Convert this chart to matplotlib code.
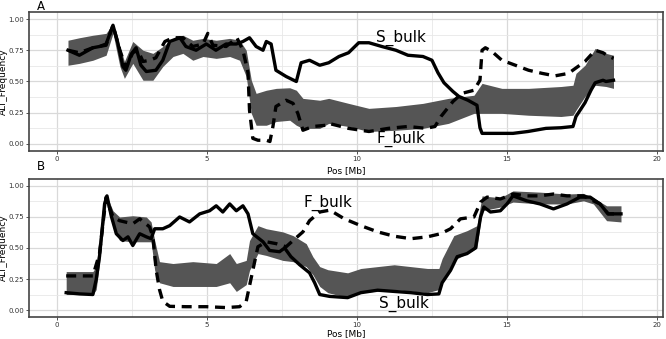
import matplotlib
matplotlib.use("Agg")
import matplotlib.pyplot as plt
import numpy as np

# ---- panel A values ----
a_s_x = [0.37, 0.75, 1.2, 1.42, 1.64, 1.87, 2.03, 2.2, 2.3, 2.48, 2.64, 2.8, 2.98, 3.3, 3.53, 3.76, 4.1, 4.3,
         4.64, 4.98, 5.3, 5.64, 5.98, 6.2, 6.42, 6.64, 6.87, 6.98, 7.14, 7.3, 7.64, 7.98, 8.14, 8.42, 8.76,
         9.06, 9.4, 9.72, 10.06, 10.4, 10.83, 11.3, 11.7, 12.2, 12.5, 12.7, 12.9, 13.2, 13.4, 13.7, 14.0,
         14.1, 14.17, 14.6, 15.2, 15.7, 16.3, 16.8, 17.2, 17.3, 17.6, 17.8, 17.94, 18.2, 18.3, 18.55]
a_s_y = [0.75, 0.71, 0.77, 0.78, 0.80, 0.95, 0.81, 0.62, 0.59, 0.72, 0.77, 0.63, 0.58, 0.59, 0.67, 0.82, 0.85, 0.78,
         0.75, 0.80, 0.75, 0.80, 0.80, 0.82, 0.85, 0.78, 0.75, 0.82, 0.80, 0.59, 0.54, 0.50, 0.65, 0.67, 0.63,
         0.65, 0.70, 0.73, 0.81, 0.81, 0.78, 0.75, 0.71, 0.70, 0.67, 0.57, 0.49, 0.42, 0.38, 0.35, 0.31,
         0.13, 0.085, 0.085, 0.085, 0.10, 0.125, 0.13, 0.14, 0.22, 0.33, 0.43, 0.49, 0.51, 0.50, 0.51]

a_f_x = [0.37, 0.75, 1.2, 1.64, 1.87, 2.1, 2.3, 2.53, 2.7, 2.87, 3.1, 3.3, 3.6, 3.87, 4.2, 4.53, 4.87, 5.03,
         5.2, 5.64, 6.0, 6.2, 6.37, 6.42, 6.53, 6.7, 6.98, 7.1, 7.2, 7.3, 7.64, 7.87, 8.03, 8.2, 8.53, 8.98,
         9.06, 9.72, 10.4, 11.05, 11.7, 12.3, 12.6, 12.8, 13.2, 13.5, 13.9, 14.1, 14.17, 14.28, 14.5, 14.83,
         15.28, 15.72, 16.17, 16.6, 17.05, 17.28, 17.6, 17.94, 18.2, 18.4, 18.55]
a_f_y = [0.75, 0.73, 0.77, 0.79, 0.95, 0.75, 0.61, 0.73, 0.75, 0.66, 0.67, 0.69, 0.82, 0.85, 0.85, 0.78, 0.80, 0.885,
         0.79, 0.78, 0.85, 0.75, 0.57, 0.27, 0.045, 0.03, 0.03, 0.02, 0.14, 0.30, 0.35, 0.325, 0.245, 0.11, 0.14, 0.15,
         0.165, 0.125, 0.10, 0.125, 0.14, 0.125, 0.14, 0.22, 0.34, 0.405, 0.43, 0.51, 0.75, 0.77, 0.74, 0.67,
         0.63, 0.59, 0.565, 0.545, 0.565, 0.605, 0.66, 0.75, 0.73, 0.70, 0.685]

a_ci_x = [0.37, 0.75, 1.2, 1.64, 1.87, 2.1, 2.25, 2.53, 2.87, 3.2, 3.53, 3.87, 4.2, 4.53, 4.87, 5.31, 5.76,
          6.09, 6.31, 6.48, 6.64, 6.98, 7.31, 7.76, 7.98, 8.2, 8.76, 9.06, 9.72, 10.4, 11.3, 12.2, 13.05,
          13.9, 14.17, 14.83, 15.72, 16.8, 17.2, 17.3, 17.6, 17.94, 18.3, 18.55]
a_ci_hi = [0.83, 0.85, 0.87, 0.885, 0.965, 0.78, 0.66, 0.82, 0.75, 0.725, 0.78, 0.845, 0.87, 0.83, 0.845, 0.83, 0.845,
           0.83, 0.75, 0.51, 0.405, 0.43, 0.445, 0.45, 0.43, 0.365, 0.35, 0.365, 0.325, 0.285, 0.30, 0.325, 0.365,
           0.39, 0.485, 0.445, 0.445, 0.46, 0.47, 0.565, 0.63, 0.765, 0.725, 0.71]
a_ci_lo = [0.63, 0.645, 0.67, 0.71, 0.885, 0.62, 0.525, 0.645, 0.51, 0.51, 0.62, 0.70, 0.725, 0.67, 0.70, 0.685, 0.70,
           0.67, 0.54, 0.245, 0.15, 0.15, 0.18, 0.19, 0.15, 0.125, 0.125, 0.165, 0.14, 0.10, 0.11, 0.125, 0.165,
           0.245, 0.245, 0.245, 0.23, 0.22, 0.23, 0.27, 0.38, 0.47, 0.46, 0.445]

# ---- panel B values ----
b_s_x = [0.31, 0.76, 1.2, 1.31, 1.42, 1.59, 1.67, 1.81, 1.98, 2.2, 2.37, 2.53, 2.76, 2.98, 3.14, 3.26, 3.53,
         3.76, 4.09, 4.42, 4.76, 5.09, 5.31, 5.53, 5.76, 5.98, 6.2, 6.37, 6.53, 6.87, 7.09, 7.42, 7.59, 7.8,
         8.09, 8.42, 8.59, 8.76, 9.09, 9.69, 10.13, 10.69, 11.24, 11.8, 12.35, 12.73, 12.84, 13.12, 13.34,
         13.67, 13.95, 14.12, 14.23, 14.45, 14.78, 15.0, 15.2, 15.66, 16.1, 16.55, 17.0, 17.43, 17.77, 18.1,
         18.37, 18.8]
b_s_y = [0.14, 0.13, 0.125, 0.245, 0.43, 0.855, 0.92, 0.76, 0.615, 0.56, 0.59, 0.52, 0.615, 0.59, 0.575, 0.655, 0.655,
         0.68, 0.75, 0.71, 0.775, 0.80, 0.84, 0.79, 0.855, 0.80, 0.84, 0.775, 0.615, 0.55, 0.48, 0.47, 0.50, 0.43,
         0.365, 0.30, 0.22, 0.125, 0.11, 0.10, 0.14, 0.16, 0.15, 0.14, 0.125, 0.13, 0.22, 0.32, 0.43,
         0.455, 0.50, 0.75, 0.83, 0.79, 0.80, 0.855, 0.92, 0.88, 0.855, 0.815, 0.855, 0.91, 0.91, 0.855,
         0.775, 0.775]

b_f_x = [0.31, 1.2, 1.42, 1.64, 1.87, 2.09, 2.53, 2.76, 3.09, 3.2, 3.31, 3.42, 3.53, 3.76, 4.31, 4.98, 5.64,
         6.09, 6.31, 6.53, 6.7, 6.98, 7.31, 7.64, 7.87, 8.2, 8.42, 8.76, 9.1, 9.58, 10.13, 10.69, 11.24, 11.8,
         12.35, 12.79, 13.12, 13.45, 13.9, 14.12, 14.34, 14.78, 15.2, 15.66, 16.1, 16.55, 17.0, 17.55, 17.88,
         18.1, 18.37, 18.8]
b_f_y = [0.275, 0.275, 0.455, 0.91, 0.75, 0.72, 0.695, 0.735, 0.67, 0.59, 0.32, 0.165, 0.07, 0.03, 0.027, 0.027, 0.02,
         0.027, 0.07, 0.32, 0.51, 0.55, 0.535, 0.51, 0.56, 0.63, 0.72, 0.79, 0.805, 0.735, 0.68, 0.63, 0.595, 0.575,
         0.59, 0.615, 0.655, 0.735, 0.75, 0.87, 0.91, 0.895, 0.935, 0.92, 0.92, 0.935, 0.92, 0.92, 0.88,
         0.855, 0.775, 0.775]

b_ci_x = [0.31, 1.2, 1.31, 1.42, 1.64, 1.87, 2.09, 2.53, 2.98, 3.14, 3.26, 3.42, 3.87, 4.53, 5.31, 5.76, 5.98,
          6.31, 6.42, 6.7, 6.98, 7.53, 7.87, 8.31, 8.53, 8.76, 9.03, 9.69, 10.13, 11.24, 12.35, 12.73, 12.84,
          13.23, 13.67, 14.0, 14.17, 14.78, 15.2, 16.1, 17.0, 17.55, 17.88, 18.32, 18.8]
b_ci_hi = [0.31, 0.31, 0.35, 0.59, 0.935, 0.80, 0.75, 0.76, 0.75, 0.71, 0.56, 0.39, 0.375, 0.39, 0.375, 0.455, 0.375,
           0.40, 0.56, 0.68, 0.655, 0.63, 0.60, 0.535, 0.43, 0.35, 0.325, 0.30, 0.335, 0.365, 0.335, 0.335, 0.415,
           0.60, 0.64, 0.68, 0.92, 0.905, 0.96, 0.95, 0.935, 0.94, 0.905, 0.84, 0.84]
b_ci_lo = [0.125, 0.125, 0.165, 0.375, 0.865, 0.67, 0.56, 0.55, 0.55, 0.55, 0.32, 0.22, 0.19, 0.19, 0.19, 0.22, 0.15,
           0.205, 0.32, 0.455, 0.44, 0.40, 0.39, 0.35, 0.285, 0.19, 0.14, 0.10, 0.14, 0.165, 0.14, 0.165, 0.22,
           0.40, 0.455, 0.50, 0.80, 0.83, 0.87, 0.855, 0.855, 0.88, 0.855, 0.72, 0.71]

x_ticks = [0, 5, 10, 15, 20]
y_ticks = [0.0, 0.25, 0.5, 0.75, 1.0]
y_tick_labels = ["0.00", "0.25", "0.50", "0.75", "1.00"]

fig = plt.figure(figsize=(6.66, 3.39), dpi=100)
axA = fig.add_axes([0.0435, 0.5546, 0.952, 0.41])
axB = fig.add_axes([0.0435, 0.0649, 0.952, 0.4071])

ribbon = "#555555"
dash = (0, (3, 2))


def style(ax, xlab_y):
    ax.set_xlim(-0.93, 20.2)
    ax.set_ylim(-0.056, 1.056)
    ax.set_xticks(x_ticks)
    ax.set_xticklabels([str(t) for t in x_ticks])
    ax.set_yticks(y_ticks)
    ax.set_yticklabels(y_tick_labels)
    ax.set_xticks([2.5, 7.5, 12.5, 17.5], minor=True)
    ax.set_yticks([0.125, 0.375, 0.625, 0.875], minor=True)
    ax.grid(True, which="major", color="#d9d9d9", lw=0.9)
    ax.grid(True, which="minor", color="#e8e8e8", lw=0.6)
    ax.set_axisbelow(True)
    ax.tick_params(which="major", labelsize=5, length=2, width=0.6, colors="#333333", pad=1.5)
    ax.tick_params(which="minor", length=0)
    for s in ax.spines.values():
        s.set_color("#444444")
        s.set_linewidth(1.2)
    ax.set_ylabel("ALT_Frequency", fontsize=6.5)
    ax.yaxis.set_label_coords(-0.033, 0.5)
    ax.set_xlabel("Pos [Mb]", fontsize=6.5)
    ax.xaxis.set_label_coords(0.5, xlab_y)


for ax, cx, lo, hi, sx, sy, fx, fy, ly in [
        (axA, a_ci_x, a_ci_lo, a_ci_hi, a_s_x, a_s_y, a_f_x, a_f_y, -0.108),
        (axB, b_ci_x, b_ci_lo, b_ci_hi, b_s_x, b_s_y, b_f_x, b_f_y, -0.088)]:
    ax.fill_between(cx, lo, hi, color=ribbon, lw=0, zorder=2)
    ax.plot(sx, sy, color="black", lw=2.4, zorder=3, solid_joinstyle="round")
    ax.plot(fx, fy, color="black", lw=2.4, ls=dash, zorder=3)
    style(ax, ly)

axA.text(11.47, 0.85, "S_bulk", fontsize=11, ha="center", va="center", zorder=4)
axA.text(11.47, 0.04, "F_bulk", fontsize=11, ha="center", va="center", zorder=4)
axB.text(9.04, 0.865, "F_bulk", fontsize=11, ha="center", va="center", zorder=4)
axB.text(11.57, 0.05, "S_bulk", fontsize=11, ha="center", va="center", zorder=4)

fig.text(37 / 666, 1 - 6 / 339, "A", fontsize=8.5, ha="left", va="center")
fig.text(37 / 666, 1 - 166 / 339, "B", fontsize=8.5, ha="left", va="center")

fig.savefig("out.png", dpi=100)
